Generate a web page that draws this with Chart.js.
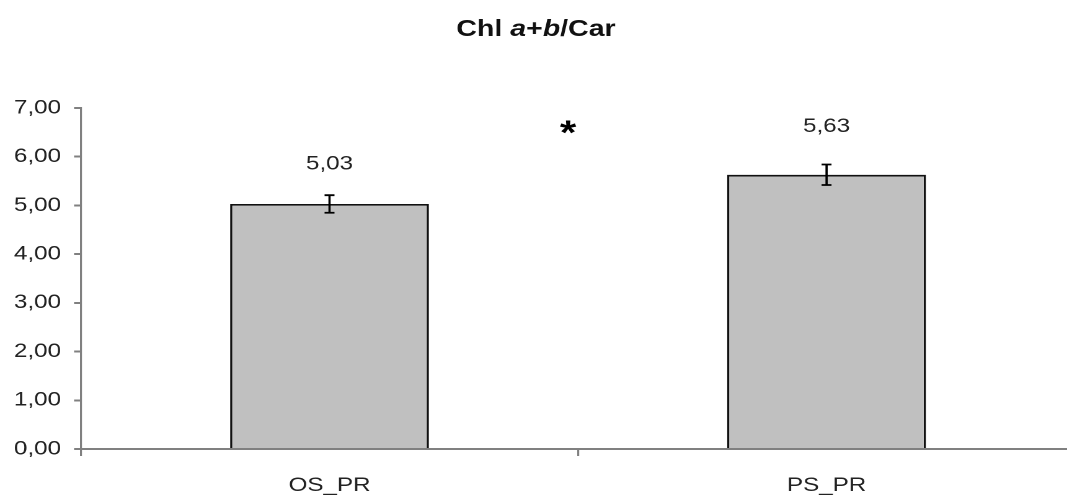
<!DOCTYPE html>
<html><head><meta charset="utf-8">
<script src="https://cdn.jsdelivr.net/npm/chart.js@4/dist/chart.umd.min.js"></script>
<style>
html,body{margin:0;padding:0;background:#fff;overflow:hidden;}
#outer{width:1067px;height:497px;overflow:hidden;position:relative;}
#wrap{width:867px;height:497px;transform:scaleX(1.24);transform-origin:0 0;}
</style>
</head><body><div id="outer"><div id="wrap"><canvas id="c"></canvas></div></div>
<script>
const categories = ["OS_PR", "PS_PR"];
const values = [5.03, 5.63];
const errors = [0.18, 0.21];
const valueLabels = ["5,03", "5,63"];
const yTicks = [0, 1, 2, 3, 4, 5, 6, 7];
const FONT = "'Liberation Sans', Arial, sans-serif";
const SX = 1.24;

const extras = {
  id: 'extras',
  afterDatasetsDraw(chart) {
    const ctx = chart.ctx;
    const meta = chart.getDatasetMeta(0);
    const y = chart.scales.y;
    const labelGap = [40, 48];
    ctx.save();
    ctx.strokeStyle = '#000';
    ctx.lineWidth = 1.8;
    meta.data.forEach((bar, i) => {
      const x = bar.x;
      const yt = y.getPixelForValue(values[i] + errors[i]);
      const yb = y.getPixelForValue(values[i] - errors[i]);
      ctx.beginPath();
      ctx.moveTo(x, yt); ctx.lineTo(x, yb);
      ctx.moveTo(x - 4, yt); ctx.lineTo(x + 4, yt);
      ctx.moveTo(x - 4, yb); ctx.lineTo(x + 4, yb);
      ctx.stroke();
      ctx.fillStyle = '#222';
      ctx.font = '19.5px ' + FONT;
      ctx.textAlign = 'center';
      ctx.textBaseline = 'middle';
      ctx.fillText(valueLabels[i], x, y.getPixelForValue(values[i]) - labelGap[i]);
    });
    // significance asterisk
    ctx.font = 'bold 34px ' + FONT;
    ctx.fillStyle = '#000';
    ctx.textAlign = 'center';
    ctx.textBaseline = 'alphabetic';
    ctx.fillText('*', 568 / SX, 144);
    // title with italic a and b
    const parts = [['bold ', 'Chl '], ['italic bold ', 'a'], ['bold ', '+'], ['italic bold ', 'b'], ['bold ', '/Car']];
    let total = 0;
    parts.forEach(p => { ctx.font = p[0] + '23px ' + FONT; total += ctx.measureText(p[1]).width; });
    let x0 = 536 / SX - total / 2;
    ctx.textAlign = 'left';
    ctx.fillStyle = '#111';
    parts.forEach(p => { ctx.font = p[0] + '23px ' + FONT; ctx.fillText(p[1], x0, 36); x0 += ctx.measureText(p[1]).width; });
    ctx.restore();
  }
};

new Chart(document.getElementById('c'), {
  type: 'bar',
  data: {
    labels: categories,
    datasets: [{
      data: values,
      backgroundColor: '#c0c0c0',
      borderColor: '#111',
      borderWidth: 1.8,
      borderSkipped: 'bottom',
      categoryPercentage: 0.4,
      barPercentage: 1.0
    }]
  },
  options: {
    responsive: true,
    maintainAspectRatio: false,
    animation: false,
    devicePixelRatio: 2,
    layout: { padding: { top: 108, right: 0, left: 0, bottom: 0 } },
    plugins: { legend: { display: false }, tooltip: { enabled: false } },
    scales: {
      x: {
        grid: { display: true, drawOnChartArea: false, offset: true, tickLength: 7, color: '#808080', lineWidth: 1.6 },
        border: { color: '#808080', width: 2 },
        ticks: { color: '#222', font: { family: FONT, size: 19.5 }, padding: 18 },
        afterFit(s) { s.height = 48; }
      },
      y: {
        min: 0, max: 7,
        afterBuildTicks(s) { s.ticks = yTicks.map(v => ({ value: v })); },
        grid: { display: true, drawOnChartArea: false, tickLength: 5.6, color: '#808080', lineWidth: 2 },
        border: { color: '#808080', width: 1.6 },
        ticks: { color: '#222', font: { family: FONT, size: 19.5 }, padding: 10.5,
          callback: v => v.toFixed(2).replace('.', ',') },
        afterFit(s) { s.width = 81 / SX; }
      }
    }
  },
  plugins: [extras]
});
</script></body></html>
